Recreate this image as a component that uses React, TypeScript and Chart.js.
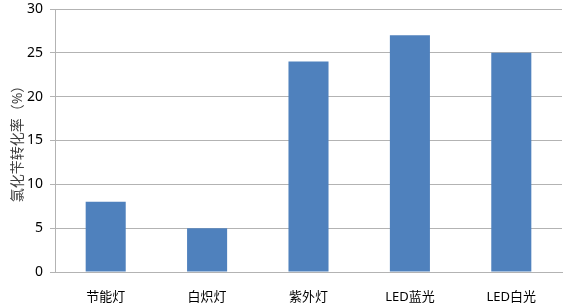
import React, { useEffect, useRef } from "react";
import { Chart, registerables } from "chart.js";

Chart.register(...registerables);

const categories = ["节能灯", "白炽灯", "紫外灯", "LED蓝光", "LED白光"];
const conversion = [8, 5, 24, 27, 25];
const yTitle = "氯化苄转化率（%）";

const FONT = "'Noto Sans', 'Noto Sans CJK SC', sans-serif";

export default function App() {
  const ref = useRef<HTMLCanvasElement | null>(null);
  useEffect(() => {
    if (!ref.current) return;
    const chart = new Chart(ref.current, {
      type: "bar",
      data: {
        labels: categories,
        datasets: [
          {
            data: conversion,
            backgroundColor: "#4F81BD",
            borderWidth: 0,
            categoryPercentage: 1,
            barPercentage: 0.395,
          },
        ],
      },
      options: {
        animation: false,
        responsive: false,
        maintainAspectRatio: false,
        layout: { padding: { top: 9, right: 4, left: 0, bottom: 0 } },
        plugins: { legend: { display: false }, tooltip: { enabled: false } },
        scales: {
          x: {
            grid: { display: false, drawTicks: false },
            border: { color: "#b3b3b3", width: 1 },
            ticks: { color: "#000", font: { family: FONT, size: 13 }, padding: 17 },
            afterFit: (s: any) => {
              s.height = 32;
              s.paddingLeft = 0;
              s.paddingRight = 0;
            },
          },
          y: {
            min: 0,
            max: 30,
            ticks: { stepSize: 5, color: "#000", font: { family: FONT, size: 14 }, padding: 7 },
            grid: { color: "#b3b3b3", lineWidth: 1, tickLength: 5 },
            border: { color: "#b3b3b3", width: 1 },
            title: {
              display: true,
              text: yTitle,
              color: "#404040",
              font: { family: FONT, size: 14 },
              padding: { top: 10, bottom: 4 },
            },
            afterFit: (s: any) => {
              s.width = 55;
              s.paddingTop = 0;
              s.paddingBottom = 0;
            },
          },
        },
      },
    });
    return () => chart.destroy();
  }, []);
  return (
    <div style={{ position: "fixed", left: 0, top: 0, width: 566, height: 304, background: "#fff" }}>
      <canvas ref={ref} width={566} height={304} style={{ width: 566, height: 304 }} />
    </div>
  );
}
